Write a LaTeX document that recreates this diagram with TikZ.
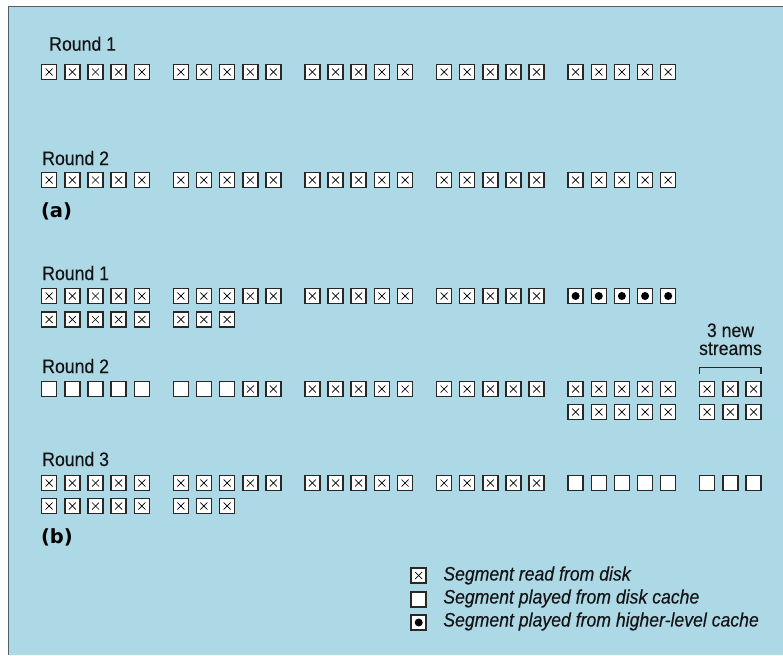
\documentclass[tikz,border=0pt]{standalone}
\usepackage{fontspec}
\setmainfont{Liberation Sans}[FakeStretch=0.905, FakeBold=0.3]
\newfontfamily\boldlabfont{DejaVu Sans}
\definecolor{bgblue}{RGB}{173,216,230}
\definecolor{boxc}{RGB}{40,40,40}
\definecolor{framec}{RGB}{85,95,100}
\definecolor{txtc}{RGB}{20,20,20}
\tikzset{
  seg/.style={draw=boxc, fill=white, line width=1.5pt, minimum size=15pt, inner sep=0pt, outer sep=0pt},
  eseg/.style={seg},
  xseg/.style={seg, path picture={
      \draw[line width=0.7pt, black]
        ([shift={(4pt,4pt)}]path picture bounding box.south west) --
        ([shift={(-4pt,-4pt)}]path picture bounding box.north east);
      \draw[line width=0.7pt, black]
        ([shift={(4pt,-4pt)}]path picture bounding box.north west) --
        ([shift={(-4pt,4pt)}]path picture bounding box.south east);}},
  dseg/.style={seg, path picture={
      \fill[black] (path picture bounding box.center) circle (4pt);}},
  lab/.style={inner sep=0pt, outer sep=0pt, text=txtc, font=\fontsize{19.5}{18}\selectfont},
  blab/.style={inner sep=0pt, outer sep=0pt, text=black, font=\boldlabfont\bfseries\fontsize{19.5}{20}\selectfont},
  leg/.style={lab, font=\fontsize{19.5}{18}\selectfont\itshape, anchor=base west},
  brk/.style={draw=boxc, line width=1.2pt},
}
\newcommand\segs[4]{%
  \foreach \sty [count=\k from 0] in {#4} {
    \node[\sty seg] (#1-#3-\k) at ({41.7+131.6*#3+23.15*\k+7.5}, #2) {};
  }}
\begin{document}
\begin{tikzpicture}[x=1pt, y=-1pt]
\useasboundingbox (0,0) rectangle (783,655);
\fill[bgblue] (8.8,6.5) rectangle (783,655);
\draw[framec, line width=1.3pt] (8.8,655) -- (8.8,6.5) -- (783,6.5);

% (a)
\node[lab, anchor=base west] (la1) at (49.3,50.7) {Round 1};
\foreach \g in {0,...,4} {\segs{aa}{72}{\g}{x,x,x,x,x}}
\node[lab, anchor=base west] (la2) at (42.3,165) {Round 2};
\foreach \g in {0,...,4} {\segs{ab}{180}{\g}{x,x,x,x,x}}
\node[blab, anchor=base west] (alab) at (41,217.5) {(a)};

% (b) round 1
\node[lab, anchor=base west] (lb1) at (42.3,280) {Round 1};
\foreach \g in {0,...,3} {\segs{ba}{296}{\g}{x,x,x,x,x}}
\segs{ba}{296}{4}{d,d,d,d,d}
\segs{bb}{319.5}{0}{x,x,x,x,x}
\segs{bb}{319.5}{1}{x,x,x}

% (b) round 2
\node[lab, anchor=base west] (lb2) at (42.3,373) {Round 2};
\segs{ca}{389}{0}{e,e,e,e,e}
\segs{ca}{389}{1}{e,e,e,x,x}
\foreach \g in {2,...,4} {\segs{ca}{389}{\g}{x,x,x,x,x}}
\segs{ca}{389}{5}{x,x,x}
\segs{cb}{412}{4}{x,x,x,x,x}
\segs{cb}{412}{5}{x,x,x}
\node[lab, anchor=base] (new1) at (730.5,337) {3 new};
\node[lab, anchor=base] (new2) at (730.5,355) {streams};
\draw[brk] ([yshift=8pt]ca-5-0.north west) -- ([yshift=14pt]ca-5-0.north west)
  -- ([yshift=14pt]ca-5-2.north east) -- ([yshift=8pt]ca-5-2.north east);

% (b) round 3
\node[lab, anchor=base west] (lb3) at (42.3,466) {Round 3};
\foreach \g in {0,...,3} {\segs{da}{483}{\g}{x,x,x,x,x}}
\segs{da}{483}{4}{e,e,e,e,e}
\segs{da}{483}{5}{e,e,e}
\segs{db}{506}{0}{x,x,x,x,x}
\segs{db}{506}{1}{x,x,x}
\node[blab, anchor=base west] (blab) at (41,543.5) {(b)};

% legend
\node[xseg] (k1) at (418.7,575.5) {};
\node[eseg] (k2) at (418.7,599.5) {};
\node[dseg] (k3) at (418.7,622.5) {};
\node[leg] (t1) at (443.3,580.5) {Segment read from disk};
\node[leg] (t2) at (443.3,603.5) {Segment played from disk cache};
\node[leg] (t3) at (443.3,626.5) {Segment played from higher-level cache};
\end{tikzpicture}
\end{document}
